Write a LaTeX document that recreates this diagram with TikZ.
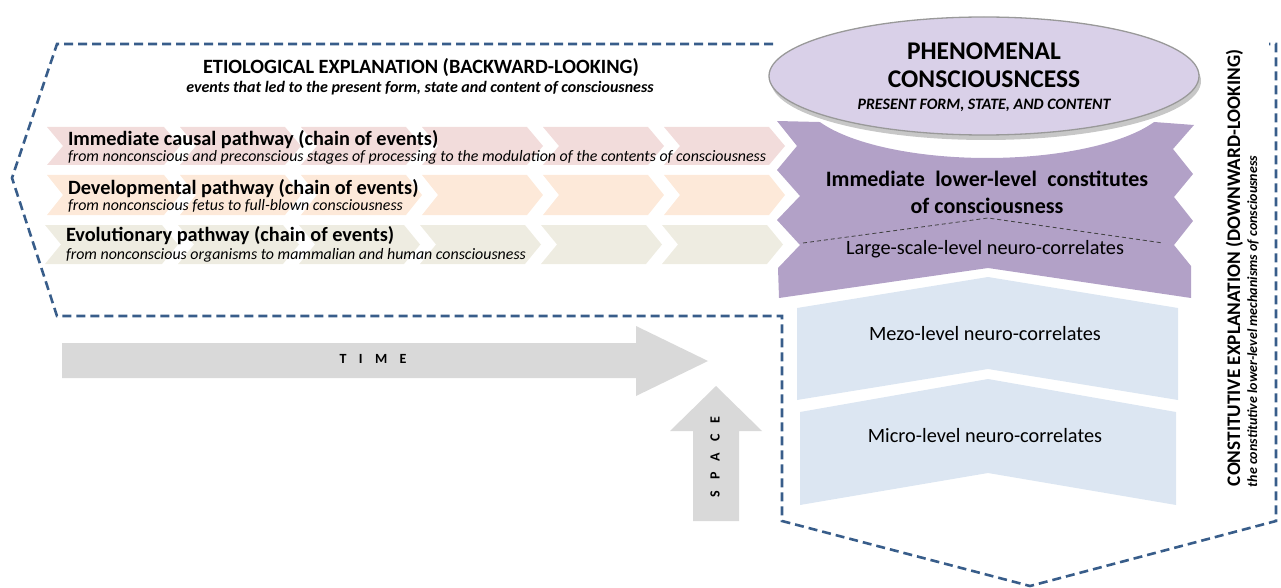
\documentclass[tikz,border=0pt]{standalone}
\usepackage{fontspec}
\setmainfont{Carlito}
\usetikzlibrary{shapes.geometric}
\definecolor{dashblue}{RGB}{56,93,138}
\definecolor{rowpink}{RGB}{242,220,219}
\definecolor{rowpeach}{RGB}{253,233,217}
\definecolor{rowbeige}{RGB}{238,236,225}
\definecolor{purpleA}{RGB}{178,161,199}
\definecolor{lightblueA}{RGB}{220,230,242}
\definecolor{grayA}{RGB}{217,217,217}
\definecolor{lavender}{RGB}{217,208,232}
\newcommand{\chevronshape}[5]{%
  \fill[#5] (#1,#3) -- ({#2-16},#3) -- (#2,{(#3+#4)/2}) -- ({#2-16},#4) -- (#1,#4) -- ({#1+16},{(#3+#4)/2}) -- cycle;}
\tikzset{
  txt/.style={inner sep=0pt, outer sep=0pt},
  rowtitle/.style={txt, anchor=base west, font=\fontsize{20.3}{22}\selectfont\bfseries},
  rowsub/.style={txt, anchor=base west, font=\fontsize{15.9}{18}\selectfont\itshape},
  headtitle/.style={txt, anchor=base, font=\fontsize{20.3}{22}\selectfont\bfseries},
  headsub/.style={txt, anchor=base, font=\fontsize{16}{18}\selectfont\bfseries\itshape},
  leveltext/.style={txt, anchor=base, font=\fontsize{20.3}{22}\selectfont},
  arrowlabel/.style={txt, font=\fontsize{14}{16}\selectfont\bfseries},
  outline/.style={dashblue, line width=2.6pt, dash pattern=on 9pt off 5pt, line join=miter},
}
\begin{document}
\begin{tikzpicture}[x=1pt,y=-1pt]
\useasboundingbox (0,0) rectangle (1281,588);

% chevron rows
\foreach \L/\T in {47/180,180/301,301/422,422/543,543/664,664/785}{
  \chevronshape{\L}{\T}{127}{165}{rowpink}
  \chevronshape{\L}{\T}{175}{215}{rowpeach}
  \chevronshape{\L-2}{\T-2}{225}{264}{rowbeige}
}

% dashed outline
\draw[outline] (773,44) -- (57,44) -- (12,178) -- (57,316) -- (782,316) -- (782,521) -- (1030,586) -- (1276,521) -- (1276,44) -- (1269,44);

% purple block
\fill[purpleA] (1194,125) -- (1154,122)
  -- plot[domain=25.4:154.6, samples=60] ({987+185*cos(\x)},{95+63*sin(\x)})
  -- (777,121) -- (797,146) -- (777,170) -- (800,196) -- (777,220) -- (800,245) -- (778,268)
  -- (779,298) -- (988,268) -- (1191,298) -- (1191,266) -- (1174,245) -- (1193,221)
  -- (1174,197) -- (1193,174) -- (1173,149) -- cycle;
\draw[black!75, line width=0.8pt, dash pattern=on 4pt off 3pt] (803,243) -- (988,218) -- (1163,243);

% light blue blocks
\fill[lightblueA] (797,308) -- (988,277) -- (1178,308) -- (1178,400) -- (988,369) -- (797,400) -- cycle;
\fill[lightblueA] (800,412) -- (988,379) -- (1176,412) -- (1176,505) -- (988,473) -- (800,505) -- cycle;

% ellipse
\fill[black, opacity=0.22] (986,81) ellipse[x radius=215, y radius=59];
\node[ellipse, fill=lavender, draw=black!40, line width=1.3pt, minimum width=430pt, minimum height=118pt, inner sep=0pt] (phen) at (984,76) {};

% arrows
\fill[grayA] (62,343) -- (636,343) -- (636,326) -- (708,361) -- (636,396) -- (636,378) -- (62,378) -- cycle;
\fill[grayA] (693,521) -- (693,431) -- (670,431) -- (716,386) -- (762,431) -- (739,431) -- (739,521) -- cycle;
\node[arrowlabel] (time) at (373,359) {T\hspace{12.4pt}I\hspace{12.4pt}M\hspace{12.4pt}E};
\node[arrowlabel, rotate=90] (space) at (715,457) {S\hspace{11pt}P\hspace{11pt}A\hspace{11pt}C\hspace{11pt}E};

% header texts
\node[headtitle] (etio) at (421,73.5) {ETIOLOGICAL EXPLANATION (BACKWARD-LOOKING)};
\node[headsub] (etiosub) at (420,93) {events that led to the present form, state and content of consciousness};

% row texts
\node[rowtitle] (r1t) at (68,146) {Immediate causal pathway (chain of events)};
\node[rowsub] (r1s) at (68,162) {from nonconscious and preconscious stages of processing to the modulation of the contents of consciousness};
\node[rowtitle] (r2t) at (68,194) {Developmental pathway (chain of events)};
\node[rowsub] (r2s) at (68,211) {from nonconscious fetus to full-blown consciousness};
\node[rowtitle] (r3t) at (66,241) {Evolutionary pathway (chain of events)};
\node[rowsub] (r3s) at (66,259) {from nonconscious organisms to mammalian and human consciousness};

% ellipse texts
\node[txt, anchor=base, font=\fontsize{25.5}{28}\selectfont\bfseries] (ph1) at (984,60) {PHENOMENAL};
\node[txt, anchor=base, font=\fontsize{25.5}{28}\selectfont\bfseries] (ph2) at (984,87.5) {CONSCIOUSNCESS};
\node[txt, anchor=base, font=\fontsize{15.9}{18}\selectfont\bfseries\itshape] (ph3) at (984,110) {PRESENT FORM, STATE, AND CONTENT};

% purple texts
\node[txt, anchor=base, font=\fontsize{22}{24}\selectfont\bfseries] (imm1) at (987,186) {Immediate\hspace{10.5pt}lower-level\hspace{10.5pt}constitutes};
\node[txt, anchor=base, font=\fontsize{22}{24}\selectfont\bfseries] (imm2) at (987,213) {of consciousness};
\node[leveltext] (large) at (985,254) {Large-scale-level neuro-correlates};
\node[leveltext] (mezo) at (985,340) {Mezo-level neuro-correlates};
\node[leveltext] (micro) at (985,442) {Micro-level neuro-correlates};

% right rotated texts
\node[txt, rotate=90, anchor=base west, font=\fontsize{19.2}{22}\selectfont\bfseries] (cons) at (1240,486) {CONSTITUTIVE EXPLANATION (DOWNWARD-LOOKING)};
\node[txt, rotate=90, anchor=base west, font=\fontsize{14}{16}\selectfont\bfseries\itshape] (conssub) at (1257,487) {the constitutive lower-level mechanisms of consciousness};
\end{tikzpicture}
\end{document}
